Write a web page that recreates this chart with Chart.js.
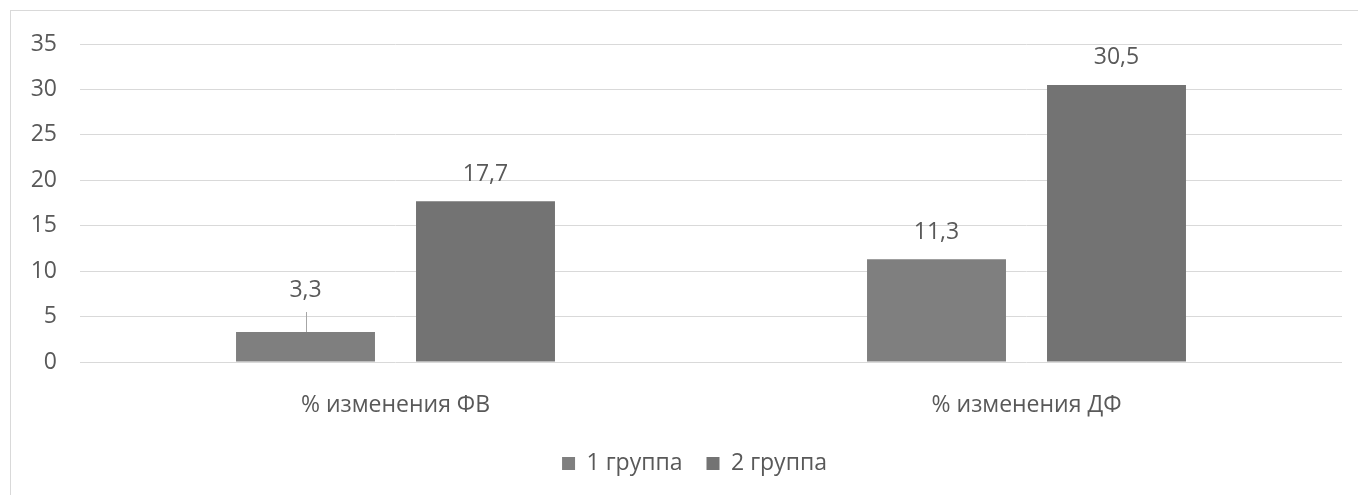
<!DOCTYPE html>
<html>
<head>
<meta charset="utf-8">
<script src="https://cdn.jsdelivr.net/npm/chart.js@4"></script>
<style>
  html, body { margin: 0; padding: 0; background: #ffffff; overflow: hidden; }
  .frame {
    position: absolute;
    left: 10px;
    top: 10px;
    width: 1372px;
    height: 520px;
    border: 1px solid #d9d9d9;
    background: #ffffff;
  }
  .chart-box { position: relative; width: 1372px; height: 484px; }
</style>
</head>
<body>
<div class="frame">
  <div class="chart-box">
    <canvas id="changeChart"></canvas>
  </div>
</div>
<script>
const categories = ["% изменения ФВ", "% изменения ДФ"];
const seriesNames = ["1 группа", "2 группа"];
const group1 = [3.3, 11.3];
const group2 = [17.7, 30.5];
const yTicks = [0, 5, 10, 15, 20, 25, 30, 35];

const textColor = "#595959";
const fontFamily = "'Open Sans', 'DejaVu Sans', sans-serif";

// value labels above bars, comma decimals like the original
const valueLabels = {
    id: "valueLabels",
    afterDatasetsDraw(chart, args, opts) {
        const c = chart.ctx;
        c.save();
        c.font = "23px " + fontFamily;
        c.fillStyle = textColor;
        c.textAlign = "center";
        c.textBaseline = "middle";
        chart.data.datasets.forEach((ds, di) => {
            const meta = chart.getDatasetMeta(di);
            meta.data.forEach((bar, i) => {
                const txt = String(ds.data[i]).replace(".", ",");
                let off = opts.offset;
                const lead = opts.leader && opts.leader.dataset === di && opts.leader.index === i;
                if (lead) {
                    off += opts.leader.extra;
                    c.beginPath();
                    c.strokeStyle = "#a6a6a6";
                    c.lineWidth = 1;
                    c.moveTo(Math.round(bar.x) + 0.5, bar.y - off + 22);
                    c.lineTo(Math.round(bar.x) + 0.5, bar.y);
                    c.stroke();
                }
                c.fillText(txt, bar.x, bar.y - off);
            });
        });
        c.restore();
    }
};

// the legend in the original sits a bit right of the plot centre
const legendNudge = {
    id: "legendNudge",
    afterLayout(chart, args, opts) {
        if (chart.legend) {
            chart.legend.left += opts.dx;
            chart.legend.right += opts.dx;
        }
    }
};

const ctx = document.getElementById("changeChart");

new Chart(ctx, {
    type: "bar",
    data: {
        labels: categories,
        datasets: [
            {
                label: seriesNames[0],
                data: group1,
                backgroundColor: "#7f7f7f",
                borderWidth: 0,
                categoryPercentage: 0.5705,
                barPercentage: 0.772
            },
            {
                label: seriesNames[1],
                data: group2,
                backgroundColor: "#737373",
                borderWidth: 0,
                categoryPercentage: 0.5705,
                barPercentage: 0.772
            }
        ]
    },
    options: {
        responsive: true,
        maintainAspectRatio: false,
        animation: false,
        layout: {
            padding: { left: 0, right: 41, top: 33, bottom: 10 }
        },
        plugins: {
            tooltip: { enabled: false },
            legend: {
                display: true,
                position: "bottom",
                labels: {
                    color: textColor,
                    boxWidth: 13,
                    boxHeight: 13,
                    padding: 24,
                    font: { family: fontFamily, size: 23 }
                }
            },
            legendNudge: { dx: 18 },
            valueLabels: {
                offset: 27,
                leader: { dataset: 0, index: 0, extra: 15 }
            }
        },
        scales: {
            x: {
                grid: { display: false },
                border: { display: false },
                ticks: {
                    color: textColor,
                    padding: 22,
                    font: { family: fontFamily, size: 23 }
                },
                afterFit(scale) {
                    scale.height = 66;
                }
            },
            y: {
                min: yTicks[0],
                max: yTicks[yTicks.length - 1],
                afterBuildTicks(scale) {
                    scale.ticks = yTicks.map(v => ({ value: v }));
                },
                grid: {
                    color: "#d9d9d9",
                    lineWidth: 1,
                    drawTicks: false
                },
                border: { display: false },
                ticks: {
                    color: textColor,
                    padding: 23,
                    font: { family: fontFamily, size: 23 }
                },
                afterFit(scale) {
                    scale.width = 69;
                    scale.paddingTop = 0;
                    scale.paddingBottom = 0;
                }
            }
        }
    },
    plugins: [valueLabels, legendNudge]
});
</script>
</body>
</html>
